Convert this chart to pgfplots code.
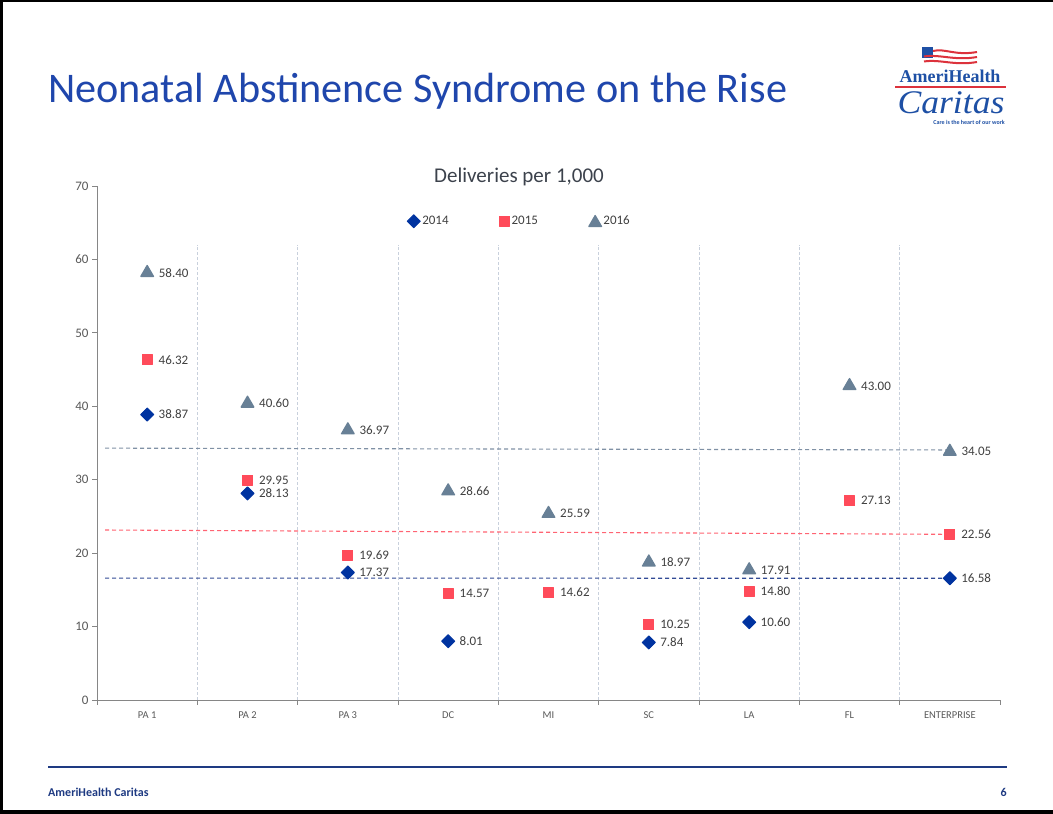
\documentclass[border=0pt]{standalone}
\usepackage{fontspec}
\setmainfont{Carlito}
\newfontfamily\logoserif{Liberation Serif}
\usepackage{pgfplots}
\pgfplotsset{compat=1.18}
\definecolor{titleblue}{RGB}{31,70,172}
\definecolor{cA}{RGB}{0,51,160}
\definecolor{cB}{RGB}{255,75,90}
\definecolor{cC}{RGB}{104,128,150}
\definecolor{lA}{RGB}{50,75,150}
\definecolor{lB}{RGB}{255,100,115}
\definecolor{lC}{RGB}{128,145,165}
\definecolor{gridc}{RGB}{200,208,220}
\definecolor{axisgray}{RGB}{134,134,134}
\definecolor{ticktext}{RGB}{89,89,89}
\definecolor{labeltext}{RGB}{64,64,64}
\definecolor{charttitle}{RGB}{60,66,76}
\definecolor{footblue}{RGB}{30,58,130}
\definecolor{logoblue}{RGB}{30,80,165}
\definecolor{logored}{RGB}{220,50,60}
\begin{document}
\begin{tikzpicture}
\path[use as bounding box] (0,0) rectangle (1053bp,814bp);
\fill[white] (0,0) rectangle (1053bp,814bp);
% frame
\fill[black] (0,811.5bp) rectangle (1053bp,814bp);
\fill[black] (0,0) rectangle (2.5bp,814bp);
\fill[black] (0,0) rectangle (1053bp,3.5bp);
% title
\node[anchor=base west, inner sep=0, text=titleblue, font=\fontsize{42.2bp}{50bp}\selectfont] at (48bp,711bp) {Neonatal Abstinence Syndrome on the Rise};
% logo
\fill[logoblue] (922bp,756bp) rectangle (933bp,767bp);
\draw[logored, line width=2bp] (933bp,763bp) .. controls (945bp,766bp) and (955bp,758bp) .. (977bp,762bp);
\draw[logored, line width=2bp] (924bp,757.5bp) .. controls (940bp,760bp) and (955bp,753bp) .. (977bp,757bp);
\draw[logored, line width=2bp] (924bp,752.5bp) .. controls (940bp,755bp) and (955bp,748bp) .. (977bp,752bp);
\node[anchor=base, inner sep=0, text=logoblue, font=\logoserif\bfseries\fontsize{18bp}{20bp}\selectfont] at (950bp,731bp) {AmeriHealth};
\draw[logored, line width=1.3bp] (895bp,727bp) -- (1006bp,727bp);
\node[anchor=base, inner sep=0, xscale=1.08, text=logoblue, font=\logoserif\itshape\fontsize{33bp}{35bp}\selectfont] at (951bp,700bp) {Caritas};
\node[anchor=base east, inner sep=0, text=logoblue, font=\bfseries\fontsize{6bp}{7bp}\selectfont] at (1005bp,689bp) {Care is the heart of our work};
% chart title
\node[anchor=center, inner sep=0, text=charttitle, font=\fontsize{21bp}{25bp}\selectfont] at (519bp,637bp) {Deliveries per 1,000};
\begin{axis}[
  at={(97bp,114bp)}, anchor=south west,
  scale only axis, width=903bp, height=514bp,
  xmin=-0.5, xmax=8.5, ymin=0, ymax=70,
  axis x line*=bottom, axis y line*=left,
  axis line style={draw=axisgray, line width=0.9bp, -},
  xtick={-0.5,0.5,1.5,2.5,3.5,4.5,5.5,6.5,7.5,8.5},
  xticklabels={},
  extra x ticks={0,1,2,3,4,5,6,7,8},
  extra x tick labels={PA 1,PA 2,PA 3,DC,MI,SC,LA,FL,ENTERPRISE},
  extra x tick style={major tick length=0pt, tick label style={font=\fontsize{10.5bp}{12bp}\selectfont, text=ticktext, yshift=-8bp}},
  ytick={0,10,20,30,40,50,60,70},
  major tick length=5bp,
  tick align=outside,
  tick style={draw=axisgray, line width=0.8bp},
  y tick label style={font=\fontsize{13bp}{15bp}\selectfont, text=ticktext},
  /pgf/number format/assume math mode=true,
  clip=false,
  legend columns=3,
  legend style={at={(0.4679,0.9314)}, anchor=center, draw=none, fill=none, inner sep=0pt,
    font=\fontsize{13bp}{15bp}\selectfont, text=labeltext,
    /tikz/every even column/.append style={column sep=49bp}},
  legend image code/.code={\draw[mark repeat=2,mark phase=2,#1] plot coordinates {(0bp,0bp)(4bp,0bp)(8bp,0bp)};},
  every node near coord/.append style={anchor=west, inner sep=0pt, xshift=11bp, yshift=0pt, font=\fontsize{13bp}{15bp}\selectfont, text=labeltext},
]
\pgfplotsinvokeforeach{0.5,1.5,2.5,3.5,4.5,5.5,6.5,7.5}{
  \draw[gridc, line width=0.6bp, dash pattern=on 3bp off 2bp] (axis cs:#1,0) -- (axis cs:#1,62);
}
\addplot[lC, line width=1.1bp, dash pattern=on 4bp off 3bp, forget plot] coordinates {(-0.42,34.3) (8,34.05)};
\addplot[lB, line width=1.1bp, dash pattern=on 4bp off 3bp, forget plot] coordinates {(-0.42,23.15) (8,22.56)};
\addplot[lA, line width=1.1bp, dash pattern=on 4bp off 3bp, forget plot] coordinates {(-0.42,16.6) (8,16.58)};
% 2014
\addplot[only marks, mark=square*, mark size=4.6bp, mark options={rotate=45, fill=cA, draw=cA, line join=round, line width=1bp},
  nodes near coords, point meta=explicit symbolic]
  coordinates {(0,38.87)[38.87] (1,28.13)[28.13] (2,17.37)[17.37] (3,8.01)[8.01] (5,7.84)[7.84] (6,10.60)[10.60] (8,16.58)[16.58]};
\addlegendentry{2014}
% 2015
\addplot[only marks, mark=square*, mark size=5bp, mark options={fill=cB, draw=cB, line join=round, line width=1bp},
  nodes near coords, point meta=explicit symbolic]
  coordinates {(0,46.32)[46.32] (1,29.95)[29.95] (2,19.69)[19.69] (3,14.57)[14.57] (4,14.62)[14.62] (5,10.25)[10.25] (6,14.80)[14.80] (7,27.13)[27.13] (8,22.56)[22.56]};
\addlegendentry{2015}
% 2016
\addplot[only marks, mark=triangle*, mark size=7.2bp, mark options={fill=cC, draw=cC, line join=round, line width=1.4bp, yshift=-1.6bp},
  nodes near coords, point meta=explicit symbolic]
  coordinates {(0,58.40)[58.40] (1,40.60)[40.60] (2,36.97)[36.97] (3,28.66)[28.66] (4,25.59)[25.59] (5,18.97)[18.97] (6,17.91)[17.91] (7,43.00)[43.00] (8,34.05)[34.05]};
\addlegendentry{2016}
\end{axis}
% footer
\draw[footblue, line width=1.3bp] (48bp,47bp) -- (1007bp,47bp);
\node[anchor=base west, inner sep=0, text=footblue, font=\bfseries\fontsize{12bp}{14bp}\selectfont] at (48bp,18bp) {AmeriHealth Caritas};
\node[anchor=base east, inner sep=0, text=footblue, font=\bfseries\fontsize{12bp}{14bp}\selectfont] at (1007bp,18bp) {6};
\end{tikzpicture}
\end{document}
